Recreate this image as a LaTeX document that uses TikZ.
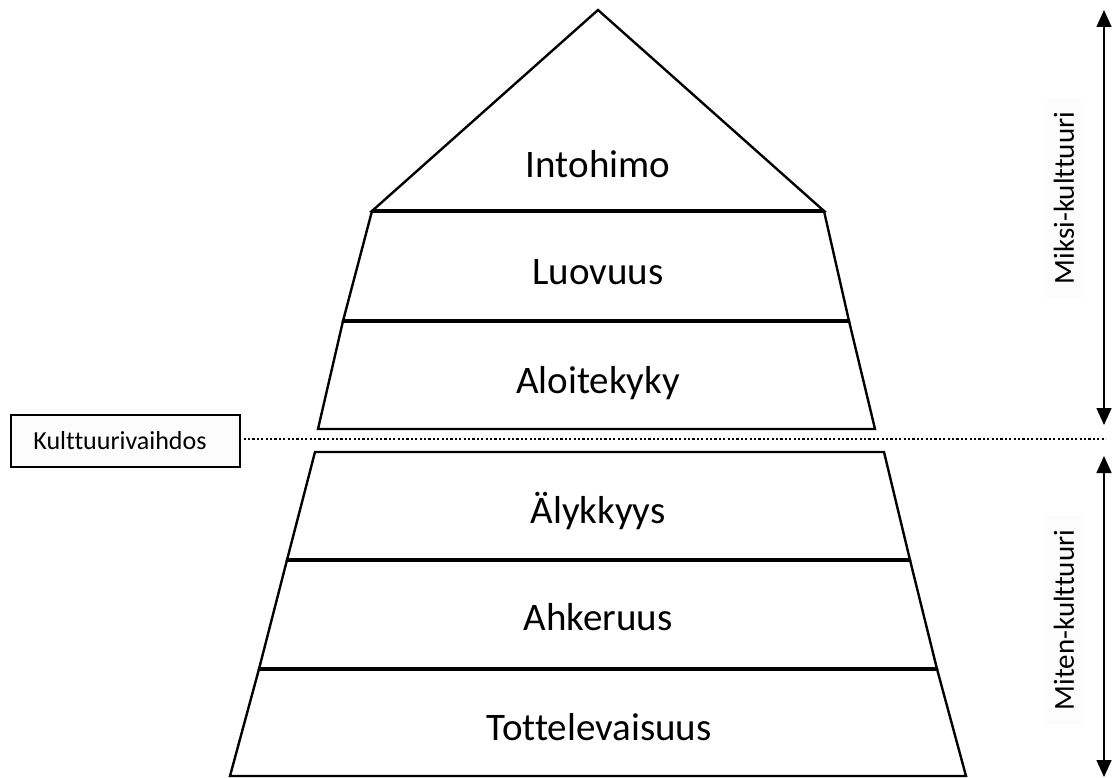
\documentclass[tikz,border=0pt]{standalone}
\usepackage{fontspec}
\setmainfont[Ligatures=NoCommon]{Carlito}
\usetikzlibrary{arrows.meta}
\begin{document}
\begin{tikzpicture}[x=1pt,y=-1pt,
  layer/.style={draw=black,line width=2.4pt,line join=miter,fill=white},
  sep/.style={draw=black,line width=3.8pt},
  lbl/.style={font=\fontsize{39}{42}\selectfont,inner sep=0pt},
  side/.style={font=\fontsize{29}{31}\selectfont,rotate=90,fill=black!1,inner xsep=14pt,inner ysep=8pt},
  dbl/.style={line width=1.5pt,{Triangle[width=15pt,length=17pt]}-{Triangle[width=15pt,length=17pt]}}]
\useasboundingbox (0,0) rectangle (1112,778);
% upper pyramid
\draw[layer] (598,10) -- (824,211) -- (372,211) -- cycle;
\draw[layer] (372,211) -- (824,211) -- (849,321) -- (343,321) -- cycle;
\draw[layer] (343,321) -- (849,321) -- (875,429) -- (318,429) -- cycle;
\draw[sep] (372,211) -- (824,211);
\draw[sep] (343,321) -- (849,321);
% lower pyramid
\draw[layer] (315,452) -- (884,452) -- (910,560) -- (287,560) -- cycle;
\draw[layer] (287,560) -- (910,560) -- (937,669) -- (259,669) -- cycle;
\draw[layer] (259,669) -- (937,669) -- (966,776) -- (230,776) -- cycle;
\draw[sep] (287,560) -- (910,560);
\draw[sep] (259,669) -- (937,669);
% labels
\node[lbl] (intohimo) at (598,164) {Intohimo};
\node[lbl] (luovuus) at (598,272) {Luovuus};
\node[lbl] (aloitekyky) at (598,383) {Aloitekyky};
\node[lbl] (alykkyys) at (598,511) {Älykkyys};
\node[lbl] (ahkeruus) at (598,617) {Ahkeruus};
\node[lbl] (tottelevaisuus) at (599,727) {Tottelevaisuus};
% culture change box and dotted line
\node[draw=black,line width=1.2pt,fill=black!1,minimum width=229pt,minimum height=52pt,inner sep=0pt] (vaihdos) at (125.5,441) {};
\node[font=\fontsize{26}{28}\selectfont,inner sep=0pt] (vaihdostxt) at (120,441) {Kulttuurivaihdos};
\coordinate (dotend) at (1106,439);
\draw[line width=2.4pt,dash pattern=on 2.2pt off 2.2pt] (vaihdos.east |- dotend) ++(3,0) -- (dotend);
% side texts
\node[side] (miksi) at (1064,198) {Miksi-kulttuuri};
\node[side] (miten) at (1064,620) {Miten-kulttuuri};
% arrows
\coordinate (a1) at (1104,10);
\coordinate (a2) at (1104,425);
\coordinate (b1) at (1104,456);
\coordinate (b2) at (1104,777);
\draw[dbl] (a1) -- (a2);
\draw[dbl] (b1) -- (b2);
\end{tikzpicture}
\end{document}
